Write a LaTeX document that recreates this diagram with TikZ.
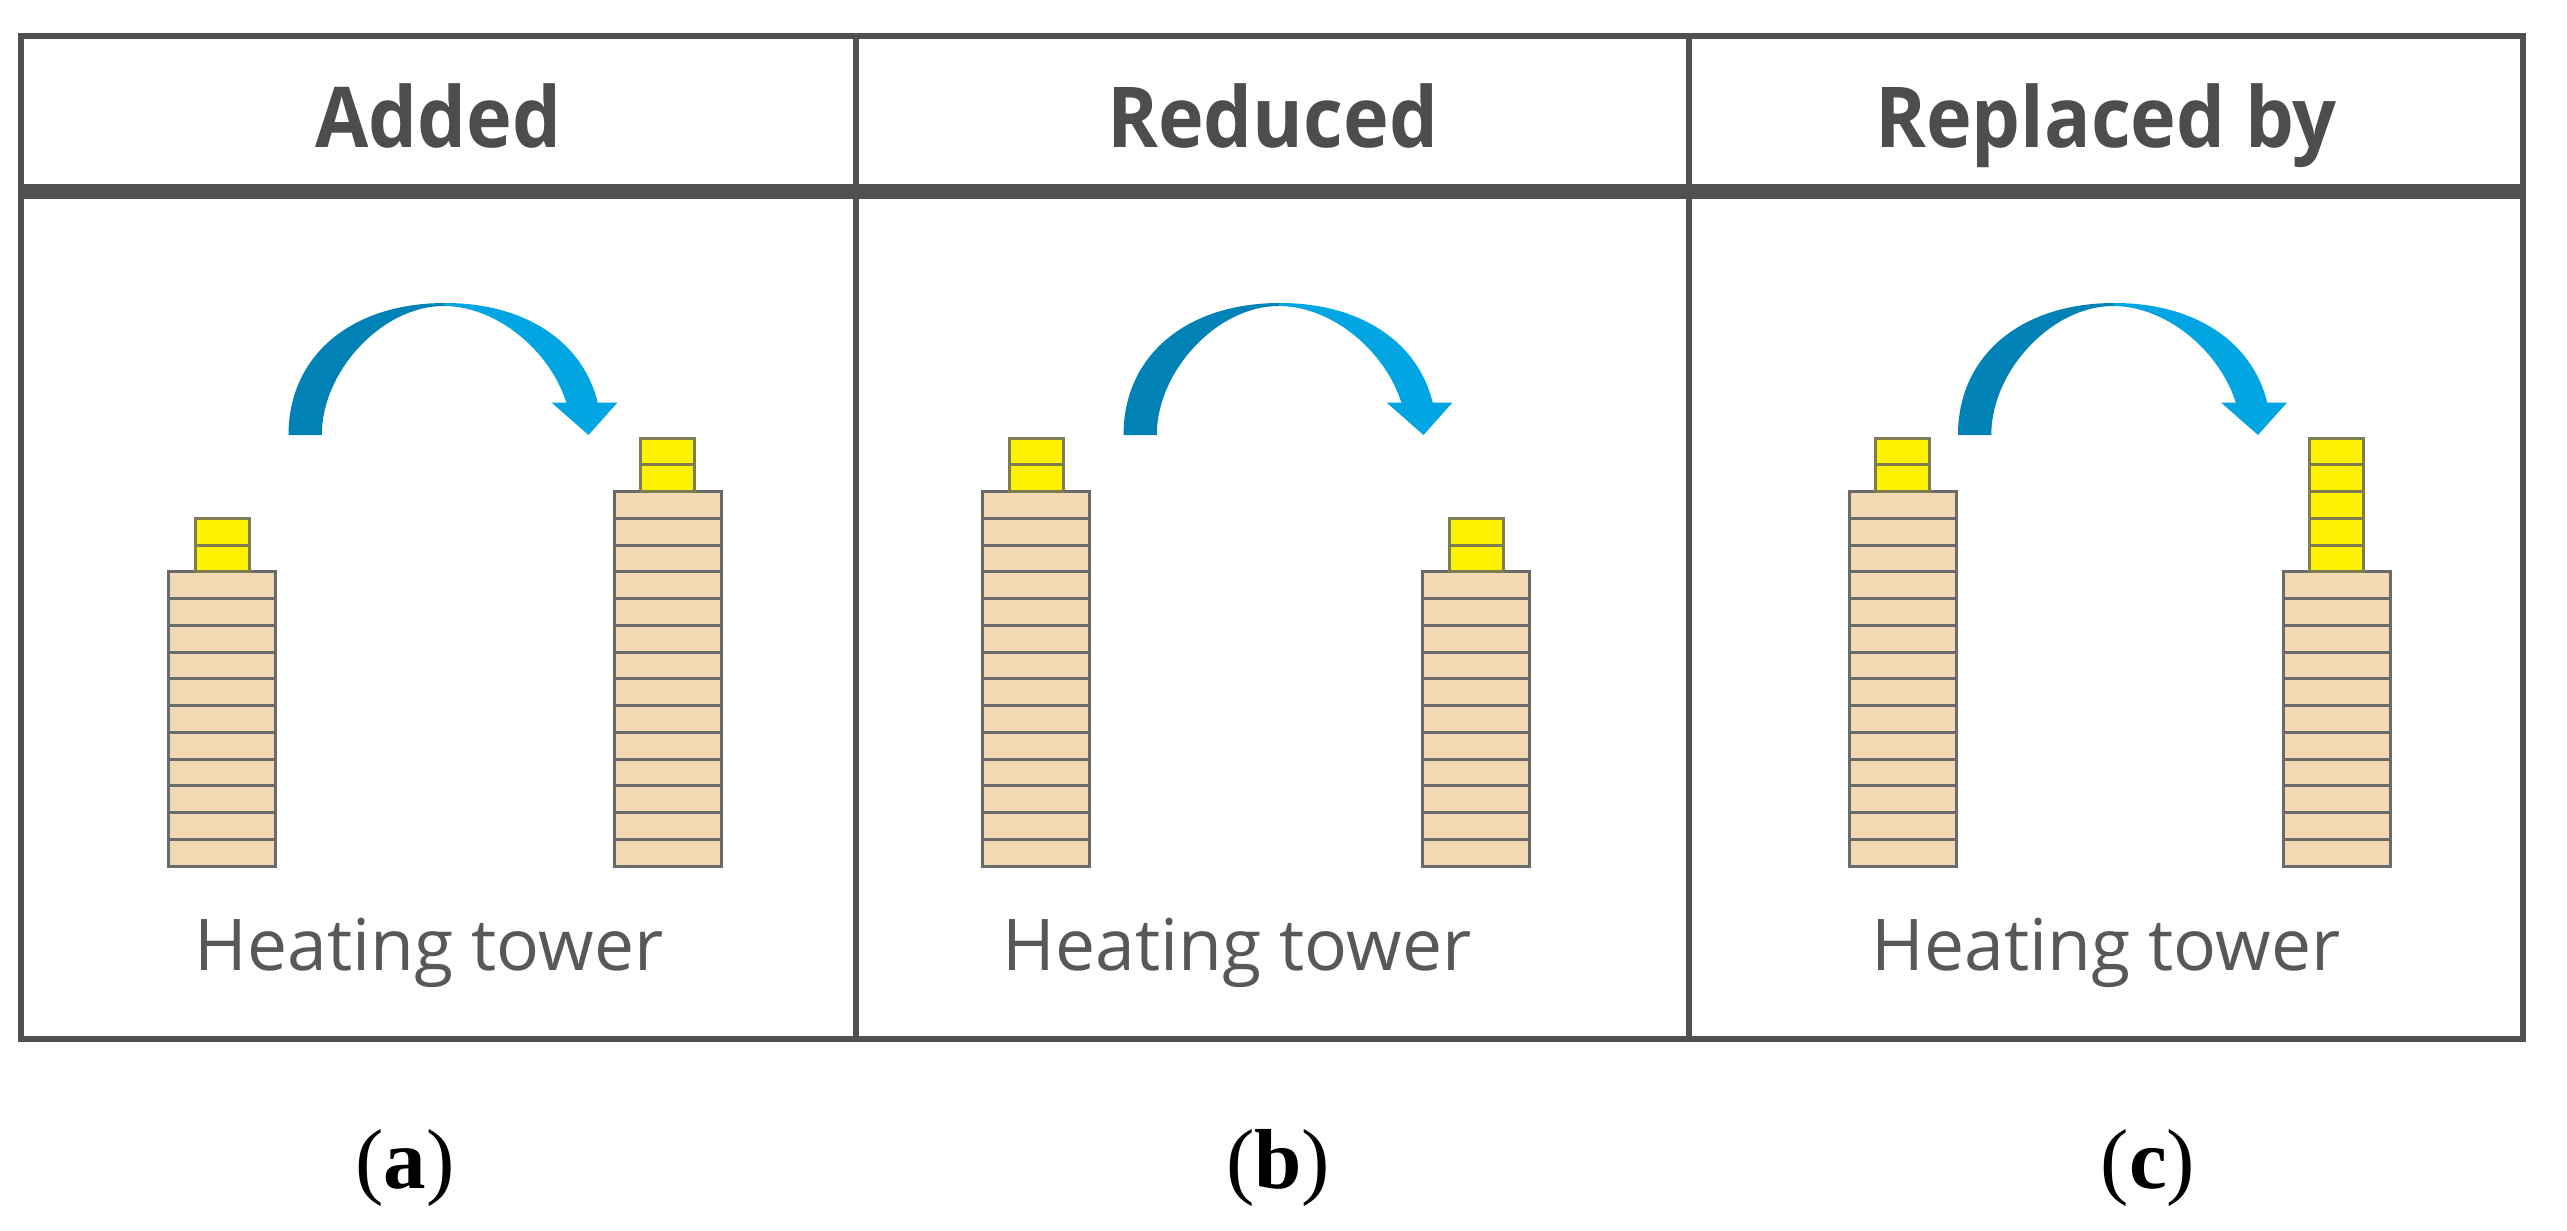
\documentclass[tikz,border=0pt]{standalone}
\usepackage{fontspec}
\setmainfont{Liberation Serif}
\newfontfamily\osans{Open Sans}
\newfontfamily\hdrfont[FakeStretch=0.92]{Open Sans}
\definecolor{framegray}{HTML}{505050}
\definecolor{hdrgray}{HTML}{4D4D4F}
\definecolor{txtgray}{HTML}{58585A}
\definecolor{beige}{HTML}{F2D9B4}
\definecolor{blockline}{HTML}{6A6A6A}
\definecolor{yelline}{HTML}{7D7D50}
\definecolor{arrowdark}{HTML}{0082B6}
\definecolor{arrowlight}{HTML}{00A5E1}
\tikzset{
  frameline/.style={draw=framegray, line width=0.06cm},
  headline/.style={draw=framegray, line width=0.15cm},
  beigeblk/.style={fill=beige, draw=blockline, line width=0.03cm},
  yellowblk/.style={fill=yellow, draw=yelline, line width=0.03cm},
  header/.style={font={\hdrfont\bfseries\fontsize{23.9}{28}\selectfont}, text=hdrgray, anchor=base, inner sep=0pt},
  caption/.style={font={\osans\fontsize{20.3}{24}\selectfont}, text=txtgray, anchor=base, inner sep=0pt},
  sublabel/.style={font={\fontsize{24.2}{28}\selectfont}, text=black, anchor=base, inner sep=0pt}
}
% #1 left x, #2 beige blocks, #3 yellow blocks
\newcommand{\mytower}[3]{%
  \foreach \i in {1,...,#2}{
    \draw[beigeblk] (#1,{866-(\i-1)*26.75}) rectangle ++(107,-26.75);
  }
  \foreach \j in {1,...,#3}{
    \draw[yellowblk] ({#1+26.5},{866-#2*26.75-(\j-1)*26.75}) rectangle ++(54,-26.75);
  }
}
\newcommand{\bluearrow}[1]{%
  \begin{scope}[xshift=#1]
    \fill[arrowdark] (288.5,435) .. controls (288.5,355.8) and (351.1,303) .. (445,303)
      -- (443.5,306) .. controls (382.65,306) and (321.8,370.5) .. (321.8,435) -- cycle;
    \begin{scope}
      \clip (400,250) rectangle (700,403.5);
      \fill[arrowlight] (445,303) .. controls (538.9,303) and (601.5,355.8) .. (601.5,435)
        -- (571.5,435) .. controls (571.5,370.5) and (507.5,306) .. (443.5,306) -- cycle;
    \end{scope}
    \fill[arrowlight] (551.5,402.5) -- (617.5,402.5) -- (588.5,435) -- cycle;
  \end{scope}}
\begin{document}
\begin{tikzpicture}[x=0.01cm,y=-0.01cm]
\useasboundingbox (0,0) rectangle (2567,1230);
\fill[white] (0,0) rectangle (2567,1230);

% towers
\mytower{168.6}{11}{2}
\mytower{614}{14}{2}
\mytower{982.5}{14}{2}
\mytower{1422.6}{11}{2}
\mytower{1849}{14}{2}
\mytower{2283}{11}{5}

% arrows
\bluearrow{0cm}
\bluearrow{8.345cm}
\bluearrow{16.685cm}

% frame
\draw[frameline] (21,36) rectangle (2523,1039);
\draw[frameline] (856,36) -- (856,1039);
\draw[frameline] (1689,36) -- (1689,1039);
\draw[headline] (21,191.5) -- (2523,191.5);

% headers
\node[header] (hA) at (438.5,147) {Added};
\node[header] (hB) at (1272.5,147) {Reduced};
\node[header] (hC) at (2106,147) {Replaced by};

% captions
\node[caption] (tA) at (429,970) {Heating tower};
\node[caption] (tB) at (1237,970) {Heating tower};
\node[caption] (tC) at (2106,970) {Heating tower};

% sub labels
\node[sublabel] (la) at (405,1188) {(\textbf{a})};
\node[sublabel] (lb) at (1278,1188) {(\textbf{b})};
\node[sublabel] (lc) at (2148,1188) {(\textbf{c})};
\end{tikzpicture}
\end{document}
